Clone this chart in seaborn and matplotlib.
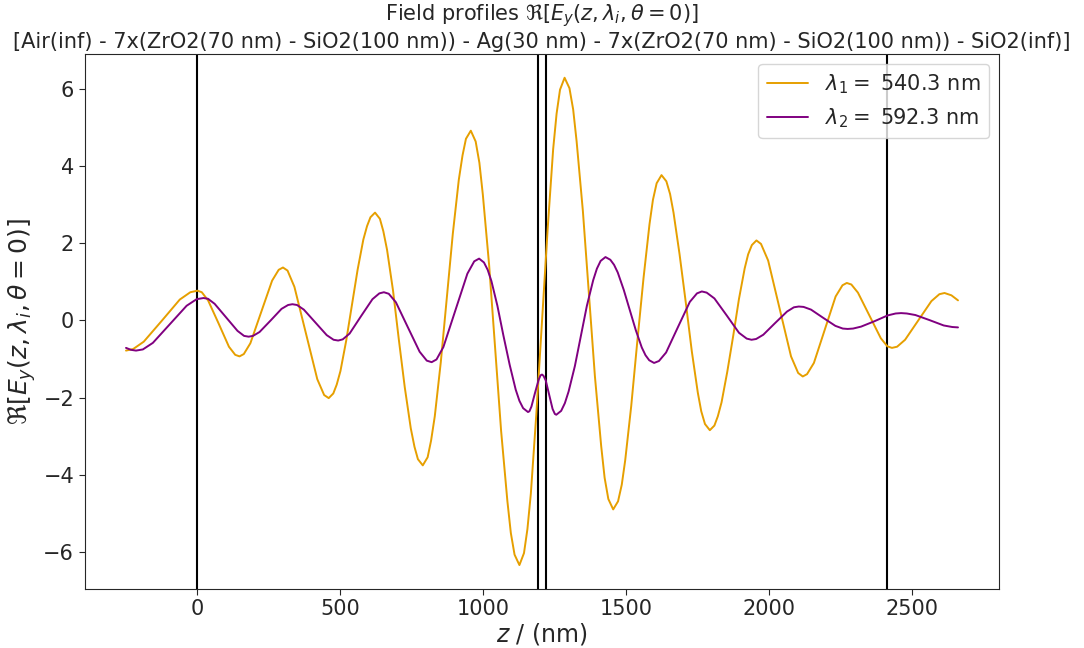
import numpy as np
import pandas as pd
import matplotlib
matplotlib.use("Agg")
import matplotlib.pyplot as plt
import seaborn as sns

# layer boundaries (nm)
boundaries = [0, 1190, 1220, 2410]

# field profile lambda_1 = 540.3 nm
z1 = [-250, -225, -188, -125, -62, -25,
      0, 15, 37, 74, 110, 132,
      147, 162, 185, 223, 261, 284,
      299, 315, 339, 379, 419, 443,
      459, 475, 500, 540, 580, 605,
      621, 638, 663, 704, 746, 771,
      788, 805, 830, 872, 914, 939,
      956, 973, 998, 1041, 1084, 1109,
      1126, 1142, 1166, 1205, 1244, 1268,
      1284, 1301, 1326, 1369, 1412, 1437,
      1454, 1471, 1496, 1538, 1581, 1606,
      1623, 1640, 1665, 1708, 1750, 1775,
      1792, 1808, 1833, 1874, 1914, 1939,
      1955, 1971, 1996, 2036, 2076, 2101,
      2117, 2132, 2156, 2194, 2232, 2256,
      2271, 2287, 2310, 2350, 2390, 2413,
      2429, 2447, 2475, 2521, 2567, 2595,
      2613, 2637, 2660]
ey1 = [-0.78, -0.74, -0.55, -0.01, 0.54, 0.73,
       0.77, 0.73, 0.52, -0.08, -0.68, -0.89,
       -0.93, -0.87, -0.59, 0.22, 1.03, 1.31,
       1.37, 1.29, 0.87, -0.32, -1.52, -1.93,
       -2.01, -1.89, -1.31, 0.39, 2.09, 2.67,
       2.79, 2.63, 1.83, -0.48, -2.79, -3.59,
       -3.75, -3.54, -2.48, 0.58, 3.64, 4.70,
       4.91, 4.63, 3.26, -0.71, -4.68, -6.06,
       -6.33, -6.02, -4.48, -0.03, 4.43, 5.97,
       6.28, 6.01, 4.64, 0.70, -3.25, -4.62,
       -4.89, -4.68, -3.62, -0.57, 2.49, 3.55,
       3.76, 3.60, 2.79, 0.46, -1.87, -2.68,
       -2.84, -2.72, -2.12, -0.39, 1.35, 1.95,
       2.07, 1.98, 1.55, 0.31, -0.93, -1.36,
       -1.45, -1.39, -1.10, -0.24, 0.62, 0.91,
       0.97, 0.93, 0.72, 0.13, -0.46, -0.67,
       -0.71, -0.68, -0.50, 0.00, 0.50, 0.68,
       0.71, 0.65, 0.52]
# extra readings on the steep flanks of lambda_1
z1_extra = [487, 520, 560, 593,
            650, 684, 725, 759,
            817, 851, 893, 927,
            986, 1020, 1062, 1096,
            1154, 1185, 1225, 1256,
            1314, 1348, 1390, 1424,
            1484, 1517, 1560, 1593,
            1653, 1686, 1729, 1762,
            1820, 1853, 1894, 1926]
ey1_extra = [-1.66, -0.53, 1.31, 2.44,
             2.31, 0.77, -1.73, -3.27,
             -3.11, -1.08, 2.24, 4.27,
             4.08, 1.44, -2.86, -5.50,
             -5.40, -2.44, 2.39, 5.35,
             5.46, 2.83, -1.44, -4.07,
             -4.25, -2.22, 1.09, 3.12,
             3.27, 1.72, -0.80, -2.35,
             -2.48, -1.33, 0.56, 1.71]

# field profile lambda_2 = 592.3 nm
z2 = [-250, -233,
      -215, -191, -156, -97, -38, -3,
      21, 37, 60, 100, 140, 163,
      179, 194, 217, 256, 294, 317,
      332, 348, 372, 412, 452, 476,
      492, 508, 532, 572, 612, 636,
      652, 669, 694, 736, 777, 802,
      819, 836, 860, 902, 944, 968,
      985, 1002, 1028, 1070, 1113, 1139,
      1156, 1161, 1168, 1180, 1193, 1200,
      1205, 1210, 1218, 1230, 1242, 1250,
      1255, 1272, 1298, 1341, 1384, 1410,
      1427, 1444, 1470, 1512, 1554, 1580,
      1597, 1614, 1639, 1680, 1722, 1747,
      1764, 1781, 1808, 1851, 1894, 1921,
      1938, 1954, 1979, 2020, 2062, 2086,
      2103, 2120, 2146, 2188, 2231, 2257,
      2274, 2293, 2321, 2368, 2414, 2442,
      2461, 2481, 2511, 2560, 2610, 2640,
      2660]
ey2 = [-0.71, -0.76,
       -0.78, -0.75, -0.58, -0.10, 0.38, 0.55,
       0.58, 0.56, 0.43, 0.08, -0.27, -0.40,
       -0.42, -0.40, -0.30, 0.00, 0.30, 0.40,
       0.42, 0.40, 0.28, -0.05, -0.38, -0.50,
       -0.52, -0.49, -0.34, 0.11, 0.55, 0.70,
       0.73, 0.69, 0.47, -0.18, -0.81, -1.04,
       -1.08, -1.01, -0.69, 0.26, 1.21, 1.53,
       1.60, 1.50, 1.02, -0.39, -1.79, -2.27,
       -2.37, -2.35, -2.23, -1.89, -1.54, -1.42,
       -1.40, -1.43, -1.55, -1.92, -2.29, -2.42,
       -2.44, -2.34, -1.84, -0.40, 1.04, 1.54,
       1.64, 1.57, 1.24, 0.27, -0.70, -1.03,
       -1.10, -1.05, -0.83, -0.18, 0.48, 0.70,
       0.75, 0.72, 0.57, 0.13, -0.32, -0.47,
       -0.50, -0.48, -0.37, -0.07, 0.23, 0.34,
       0.36, 0.35, 0.28, 0.07, -0.14, -0.21,
       -0.22, -0.21, -0.16, -0.02, 0.13, 0.18,
       0.19, 0.18, 0.14, 0.01, -0.13, -0.17,
       -0.18]
z2_extra = [1015, 1049, 1092, 1126,
            1285, 1320, 1362, 1397,
            1457, 1491, 1533, 1567]
ey2_extra = [1.31, 0.38, -1.15, -2.08,
             -2.14, -1.18, 0.38, 1.34,
             1.44, 0.79, -0.25, -0.90]

labels = [r"$\lambda_1 = $ 540.3 nm", r"$\lambda_2 = $ 592.3 nm"]
colors = ["#e69f00", "#800080"]

df = pd.concat([
    pd.DataFrame({"z": z1 + z1_extra, "Ey": ey1 + ey1_extra, "wl": labels[0]}),
    pd.DataFrame({"z": z2 + z2_extra, "Ey": ey2 + ey2_extra, "wl": labels[1]}),
])

sns.set_style("ticks")
plt.rcParams["font.family"] = ["DejaVu Sans"]
plt.rcParams["mathtext.fontset"] = "dejavusans"

fig, ax = plt.subplots(figsize=(10.84, 6.48), dpi=100)
fig.subplots_adjust(left=0.078, right=0.922, top=0.917, bottom=0.091)

for b in boundaries:
    ax.axvline(b, color="black", lw=1.5, zorder=1)

sns.lineplot(data=df, x="z", y="Ey", hue="wl", palette=colors, sort=True,
             estimator=None, lw=1.4, ax=ax, zorder=3)

ax.set_xlim(-395, 2805)
ax.set_ylim(-6.95, 6.9)
ax.set_xticks([0, 500, 1000, 1500, 2000, 2500])
ax.set_yticks([-6, -4, -2, 0, 2, 4, 6])
ax.tick_params(labelsize=15, direction="out", length=4, color=".15")
for s in ax.spines.values():
    s.set_visible(True)
    s.set_color(".15")

ax.set_xlabel(r"$z$ / (nm)", fontsize=17, labelpad=1)
ax.set_ylabel(r"$\Re[E_y(z,\lambda_i,\theta=0)]$", fontsize=18)
ax.set_title("Field profiles $\\Re[E_y(z,\\lambda_i,\\theta=0)]$\n"
             "[Air(inf) - 7x(ZrO2(70 nm) - SiO2(100 nm)) - Ag(30 nm) - "
             "7x(ZrO2(70 nm) - SiO2(100 nm)) - SiO2(inf)]", fontsize=15,
             pad=4)

leg = ax.legend(loc="upper right", fontsize=15, title=None, frameon=True)
leg.get_frame().set_edgecolor("#cccccc")

fig.savefig("out.png", dpi=100)
